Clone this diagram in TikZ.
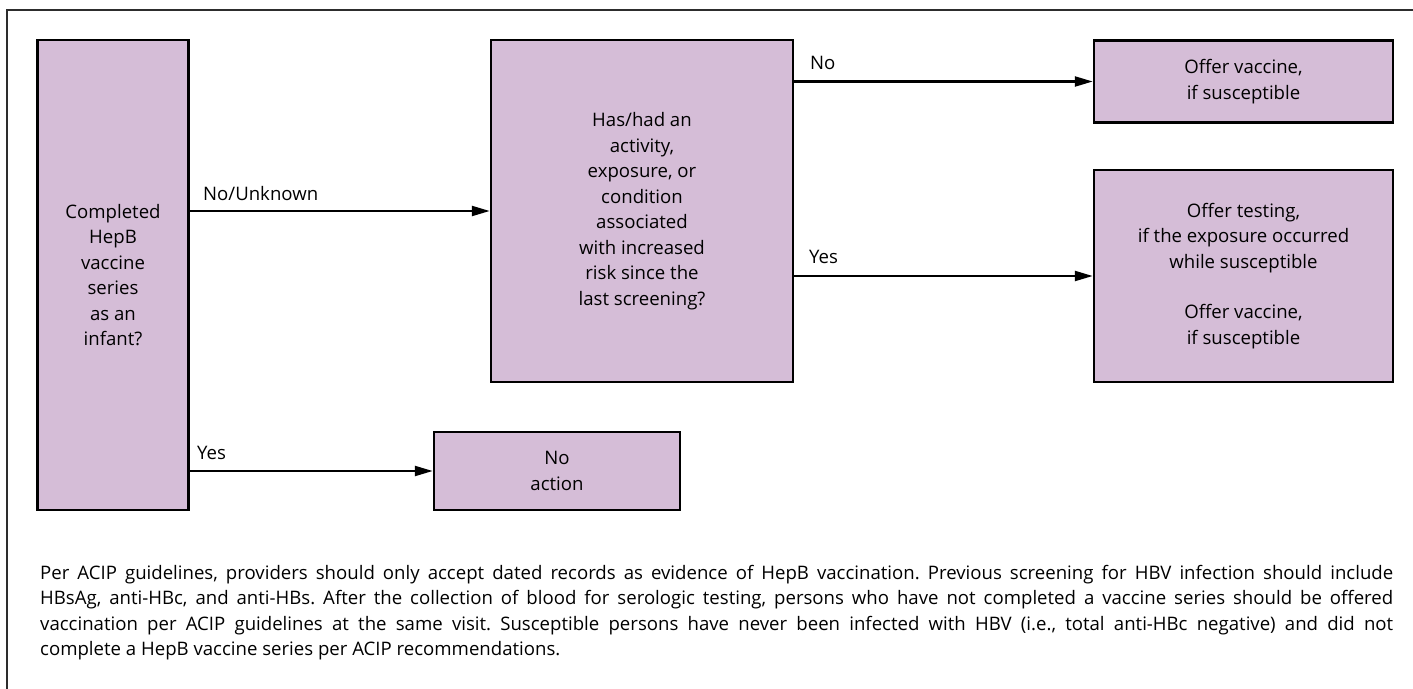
\documentclass[tikz,border=0pt]{standalone}
\usepackage{fontspec}
\setmainfont{Open Sans}
\usetikzlibrary{arrows.meta}
\frenchspacing

\definecolor{boxpurple}{RGB}{213,189,215}
\definecolor{framegray}{RGB}{45,45,45}

\begin{document}
\begin{tikzpicture}[x=1pt, y=-1pt,
    stepbox/.style={draw=black, line width=2.5pt, fill=boxpurple, align=center,
      inner sep=0pt, font=\fontsize{18.6}{25.5}\selectfont},
    flowarrow/.style={line width=2.3pt, -{Triangle[length=18pt,width=10pt]}},
    branch/.style={anchor=south west, inner sep=0pt, font=\fontsize{18.6}{20}\selectfont}]
  \useasboundingbox (0,0) rectangle (1413,688);

  % outer frame (runs off right and bottom)
  \draw[framegray, line width=2.5pt] (7,690) -- (7,10) -- (1415,10);

  % boxes
  \node[stepbox, minimum width=151pt, minimum height=470pt] (Infant) at (113,275)
    {Completed\\HepB\\vaccine\\series\\as an\\infant?};
  \node[stepbox, minimum width=302pt, minimum height=342pt] (Risk) at (642,211)
    {Has/had an\\activity,\\exposure, or\\condition\\associated\\with increased\\risk since the\\last screening?};
  \node[stepbox, minimum width=299pt, minimum height=82pt] (Vaccine) at (1243.5,81.5)
    {Offer vaccine,\\if susceptible};
  \node[stepbox, minimum width=299pt, minimum height=212pt] (Testing) at (1243.5,276)
    {Offer testing,\\if the exposure occurred\\while susceptible\\[25pt]Offer vaccine,\\if susceptible};
  \node[stepbox, minimum width=246pt, minimum height=78pt] (NoAction) at (557,471)
    {No\\action};

  % connectors
  \coordinate (unknownY) at (0,211);
  \draw[flowarrow] (Infant.east |- unknownY) -- (Risk.west |- unknownY);
  \draw[flowarrow] (Risk.east |- Vaccine.west) -- (Vaccine.west);
  \draw[flowarrow] (Risk.east |- Testing.west) -- (Testing.west);
  \draw[flowarrow] (Infant.east |- NoAction.west) -- (NoAction.west);

  % branch labels
  \node[branch] (lblUnknown) at (203,201) {No/Unknown};
  \node[branch] (lblNo) at (810,70) {No};
  \node[branch] (lblYesRisk) at (809,264) {Yes};
  \node[branch] (lblYesInfant) at (197,460) {Yes};

  % footnote
  \node[anchor=north west, inner sep=0pt, text width=1353pt, align=justify,
    font=\fontsize{18.6}{25.5}\selectfont] (notes) at (40,565)
    {Per ACIP guidelines, providers should only accept dated records as evidence of HepB vaccination. Previous screening for HBV infection should include\linebreak
     HBsAg, anti-HBc, and anti-HBs. After the collection of blood for serologic testing, persons who have not completed a vaccine series should be offered\linebreak
     vaccination per ACIP guidelines at the same visit. Susceptible persons have never been infected with HBV (i.e., total anti-HBc negative) and did not\linebreak
     complete a HepB vaccine series per ACIP recommendations.};
\end{tikzpicture}
\end{document}
